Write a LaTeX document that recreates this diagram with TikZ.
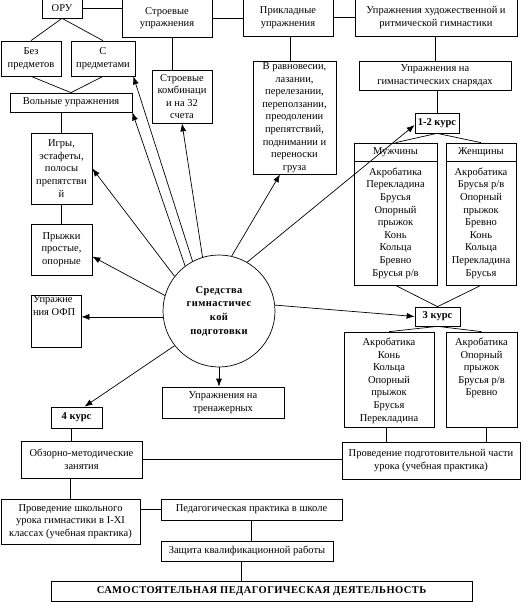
\documentclass[tikz,border=0pt]{standalone}
\usepackage{fontspec}
\setmainfont{Liberation Serif}
\newfontfamily\spacedbf[LetterSpace=4]{Liberation Serif}
\usetikzlibrary{arrows.meta,calc}
\tikzset{
  box/.style={draw, line width=0.7pt, inner sep=1pt, align=center, font=\fontsize{10.5}{12.6}\selectfont},
  con/.style={line width=0.7pt},
  arr/.style={line width=0.7pt, -{Latex[length=8pt,width=6pt]}},
}
% #1 opts, #2 name, #3 x1, #4 y1, #5 x2, #6 y2, #7 text
\newcommand\bx[7][]{\pgfmathsetmacro\bw{#5-#3}\pgfmathsetmacro\bh{#6-#4}%
  \node[box,minimum width=\bw pt,minimum height=\bh pt,#1] (#2) at ({(#3+#5)/2},{(#4+#6)/2}) {#7};}
% top aligned text box
\newcommand\tbx[7][]{\pgfmathsetmacro\bw{#5-#3}\pgfmathsetmacro\bh{#6-#4}%
  \node[box,inner sep=0pt,minimum width=\bw pt,minimum height=\bh pt,#1] (#2) at ({(#3+#5)/2},{(#4+#6)/2})
  {\parbox[c][\dimexpr\bh pt-2pt\relax][t]{\dimexpr\bw pt-4pt\relax}{#7}};}
\begin{document}
\begin{tikzpicture}[x=1pt,y=-1pt]
\useasboundingbox (0,0) rectangle (527,602);
% top row
\bx{oru}{42}{-1}{82}{18}{ОРУ}
\bx{stroev}{122}{-1}{212}{37}{Строевые\\упражнения}
\bx{prikl}{243}{-1}{333}{36}{Прикладные\\упражнения}
\bx{hud}{355}{-1}{517}{36}{Упражнения художественной и\\ритмической гимнастики}
% second row
\bx{bez}{1}{41}{61}{76}{Без\\предметов}
\bx{spred}{71}{41}{135}{76}{С\\предметами}
\bx{volnye}{10}{93}{132}{112}{Вольные упражнения}
\bx{komb}{152}{70}{212}{123}{Строевые\\комбинаци\\и на 32\\счета}
\bx{ravn}{253}{61}{336}{174}{В равновесии,\\лазании,\\перелезании,\\переползании,\\преодолении\\препятствий,\\поднимании и\\переноски\\груза}
\bx{snar}{359}{61}{511}{90}{Упражнения на\\гимнастических снарядах}
% left column
\bx{igry}{31}{133}{92}{204}{Игры,\\эстафеты,\\полосы\\препятстви\\й}
\bx{pryzh}{31}{224}{92}{275}{Прыжки\\простые,\\опорные}
\tbx{ofp}{31}{295}{81}{347}{\raggedright Упражне\\ния ОФП}
% centre
\node[circle, draw, line width=0.7pt, minimum size=112pt, inner sep=0pt, align=center,
  font=\spacedbf\bfseries\fontsize{10.5}{13.7}\selectfont] (cir) at (219,311)
  {Средства\\гимнастичес\\кой\\подготовки};
\bx{tren}{162}{387}{284}{418}{Упражнения на\\тренажерных}
% courses
\bx[font=\bfseries\fontsize{10.5}{12.6}\selectfont]{k12}{415}{113}{459}{133}{1-2 курс}
\bx{muzh}{354}{143}{437}{161}{Мужчины}
\bx{muzhb}{354}{161}{437}{285}{Акробатика\\Перекладина\\Брусья\\Опорный\\прыжок\\Конь\\Кольца\\Бревно\\Брусья р/в}
\bx{zhen}{446}{143}{516}{161}{Женщины}
\bx{zhenb}{446}{161}{516}{285}{Акробатика\\Брусья р/в\\Опорный\\прыжок\\Бревно\\Конь\\Кольца\\Перекладина\\Брусья}
\bx[font=\bfseries\fontsize{10.5}{12.6}\selectfont]{k3}{415}{307}{460}{326}{3 курс}
\tbx{a3l}{344}{332}{434}{427}{\centering\vspace*{5pt}Акробатика\\Конь\\Кольца\\Опорный\\прыжок\\Брусья\\Перекладина}
\tbx{a3r}{446}{332}{517}{427}{\centering\vspace*{5pt}Акробатика\\Опорный\\прыжок\\Брусья р/в\\Бревно}
\bx[font=\bfseries\fontsize{10.5}{12.6}\selectfont]{k4}{51}{407}{102}{428}{4 курс}
% bottom part
\bx{obz}{21}{441}{142}{478}{Обзорно-методические\\занятия}
\bx{prov}{342}{442}{520}{479}{Проведение подготовительной части\\урока (учебная практика)}
\bx{shk}{1}{499}{140}{544}{Проведение школьного\\урока гимнастики в I-XI\\классах (учебная практика)}
\bx{ped}{161}{499}{342}{520}{Педагогическая практика в школе}
\bx{zash}{161}{541}{333}{561}{Защита квалификационной работы}
\bx[font=\spacedbf\bfseries\fontsize{10.5}{12.6}\selectfont]{sam}{51}{581}{472}{601}{САМОСТОЯТЕЛЬНАЯ ПЕДАГОГИЧЕСКАЯ ДЕЯТЕЛЬНОСТЬ}
% plain connectors
\draw[con] (oru.east) -- (oru.east -| stroev.west);
\draw[con] (stroev.east) -- (stroev.east -| prikl.west);
\draw[con] (prikl.east) -- (prikl.east -| hud.west);
\draw[con] (bez.north) -- (oru.south) -- (spred.north);
\draw[con] (bez.south) -- (volnye.north) -- (spred.south);
\draw[con] ([xshift=-10pt]komb.north) -- ([xshift=-10pt]komb.north |- stroev.south);
\draw[con] ([xshift=-4pt]ravn.north) -- ([xshift=-4pt]ravn.north |- prikl.south);
\draw[con] (snar.north) -- (snar.north |- hud.south);
\draw[con] (k12.north) -- (k12.north |- snar.south);
\draw[con] (muzh.north) -- (k12.south) -- (zhen.north);
\draw[con] (muzhb.south) -- (k3.north) -- (zhenb.south);
\draw[con] (a3l.north) -- (k3.south) -- (a3r.north);
\draw[con] ([xshift=-3pt]a3l.south) -- ([xshift=-3pt]a3l.south |- prov.north);
\draw[con] ([xshift=5pt]a3r.south) -- ([xshift=5pt]a3r.south |- prov.north);
\draw[con] (igry.north) -- (igry.north |- volnye.south);
\draw[con] (igry.south) -- (pryzh.north);
\draw[con] ([xshift=-5pt]k4.south) -- ([xshift=-5pt]k4.south |- obz.north);
\draw[con] (obz.east) -- (obz.east -| prov.west);
\draw[con] (shk.north) -- (shk.north |- obz.south);
\draw[con] (ped.west) -- (ped.west -| shk.east);
\draw[con] (ped.south) -- (ped.south |- zash.north);
\draw[con] ([xshift=-6pt]zash.south) -- ([xshift=-6pt]zash.south |- sam.north);
% arrows from the circle
\draw[arr] (cir.118.7) -- ([xshift=-2pt]spred.south east);
\draw[arr] (cir.127.6) -- (volnye.south east);
\draw[arr] (cir.107) -- (komb.south);
\draw[arr] (cir.142) -- (igry.east);
\draw[arr] (cir.164) -- ([yshift=-7pt]pryzh.east);
\draw[arr] (cir.186) -- (cir.186 -| ofp.east);
\draw[arr] (cir.218) -- ([xshift=8pt]k4.north);
\draw[arr] (cir.south) -- (cir.south |- tren.north);
\draw[arr] (cir.6) -- (k3.west);
\draw[arr] (cir.60) -- ([yshift=-2pt]k12.west);
\draw[arr] (cir.77) -- ([xshift=-14.5pt]ravn.south);
\end{tikzpicture}
\end{document}
